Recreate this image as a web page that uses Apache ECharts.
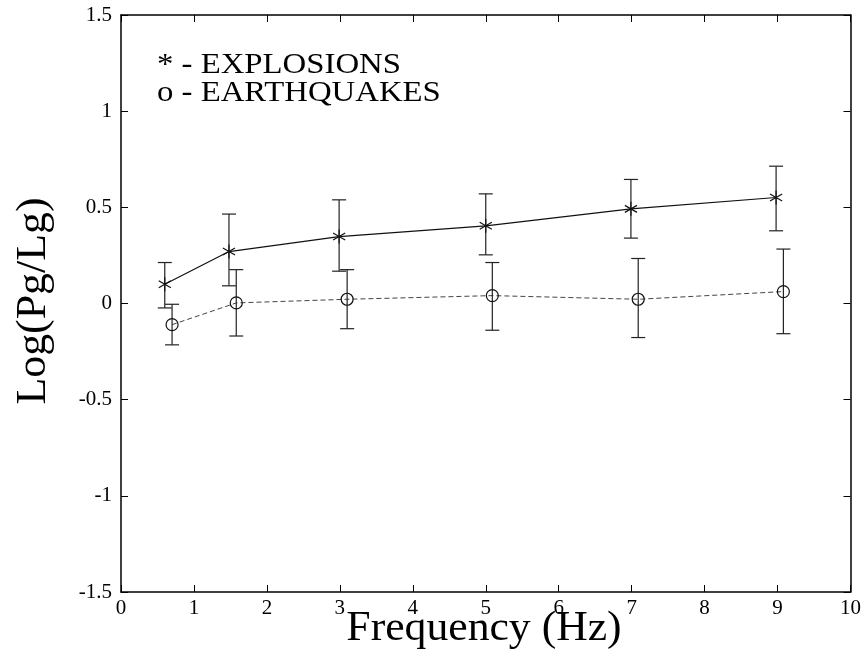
<!DOCTYPE html>
<html>
<head>
<meta charset="utf-8">
<script src="https://cdn.jsdelivr.net/npm/echarts@6/dist/echarts.min.js"></script>
<style>
html,body{margin:0;padding:0;background:#fff;}
#chart{width:864px;height:657px;}
</style>
</head>
<body>
<div id="chart"></div>
<script>
// Data
const explosionFreq = [0.60, 1.48, 2.99, 5.00, 6.99, 8.98];
const explosionMean = [0.100, 0.270, 0.348, 0.404, 0.492, 0.551];
const explosionLow  = [-0.023, 0.092, 0.168, 0.253, 0.340, 0.378];
const explosionHigh = [0.213, 0.465, 0.539, 0.570, 0.645, 0.714];

const quakeFreq = [0.70, 1.58, 3.10, 5.09, 7.09, 9.08];
const quakeMean = [-0.110, 0.003, 0.022, 0.041, 0.022, 0.062];
const quakeLow  = [-0.215, -0.169, -0.131, -0.139, -0.177, -0.157];
const quakeHigh = [-0.004, 0.176, 0.176, 0.213, 0.234, 0.283];

const xTicks = [0,1,2,3,4,5,6,7,8,9,10];
const yTicks = [-1.5,-1,-0.5,0,0.5,1,1.5];

const legendLines = ['* - EXPLOSIONS', 'o - EARTHQUAKES'];
const xTitle = 'Frequency (Hz)';
const yTitle = 'Log(Pg/Lg)';

const FONT = '"Liberation Serif","Times New Roman",serif';

function zip(xs, m, lo, hi){ return xs.map((x,i)=>[x, m[i], lo[i], hi[i]]); }

function errorRender(kind){
  return function(params, api){
    const x = api.value(0), y = api.value(1), lo = api.value(2), hi = api.value(3);
    const pc = api.coord([x, y]);
    const pl = api.coord([x, lo]);
    const ph = api.coord([x, hi]);
    const cap = 7;
    const st = {stroke:'#222', lineWidth:1.2, fill:null};
    const children = [
      {type:'line', shape:{x1:pl[0], y1:pl[1], x2:ph[0], y2:ph[1]}, style:st},
      {type:'line', shape:{x1:pl[0]-cap, y1:pl[1], x2:pl[0]+cap, y2:pl[1]}, style:st},
      {type:'line', shape:{x1:ph[0]-cap, y1:ph[1], x2:ph[0]+cap, y2:ph[1]}, style:st}
    ];
    if (kind === 'star') {
      const r = 7;
      for (let k=0;k<3;k++){
        const a = Math.PI/2 + k*Math.PI/3;
        const dx = r*Math.cos(a), dy = r*Math.sin(a);
        children.push({type:'line', shape:{x1:pc[0]-dx, y1:pc[1]-dy, x2:pc[0]+dx, y2:pc[1]+dy}, style:{stroke:'#111', lineWidth:1.2}});
      }
    } else {
      children.push({type:'circle', shape:{cx:pc[0], cy:pc[1], r:6}, style:{stroke:'#111', lineWidth:1.2, fill:'rgba(0,0,0,0)'}});
    }
    return {type:'group', children: children};
  };
}

const chart = echarts.init(document.getElementById('chart'));
const axisCommon = {
  min: -1.5, max: 1.5, interval: 0.5,
  splitLine:{show:false},
  axisLine:{show:true, onZero:false, lineStyle:{color:'#000', width:1.5}},
  axisTick:{show:true, inside:true, length:7, lineStyle:{color:'#000', width:1}}
};
chart.setOption({
  animation:false,
  backgroundColor:'#fff',
  grid:{left:121, right:13, top:15, bottom:65},
  xAxis:[
    {type:'value', min:0, max:10, interval:1, position:'bottom',
     splitLine:{show:false},
     axisLine:{show:true, onZero:false, lineStyle:{color:'#000', width:1.5}},
     axisTick:{show:true, inside:true, length:7, lineStyle:{color:'#000', width:1}},
     axisLabel:{show:true, margin:6, color:'#000', fontFamily:FONT, fontSize:21,
       formatter:(v)=> xTicks.indexOf(v) >= 0 ? String(v) : ''}},
    {type:'value', min:0, max:10, interval:1, position:'top',
     splitLine:{show:false},
     axisLine:{show:true, onZero:false, lineStyle:{color:'#000', width:1.5}},
     axisTick:{show:true, inside:true, length:7, lineStyle:{color:'#000', width:1}},
     axisLabel:{show:false}}
  ],
  yAxis:[
    Object.assign({type:'value', position:'left',
      axisLabel:{show:true, margin:9, color:'#000', fontFamily:FONT, fontSize:21,
        formatter:(v)=> yTicks.indexOf(v) >= 0 ? String(v) : ''}}, axisCommon),
    Object.assign({type:'value', position:'right', axisLabel:{show:false}}, axisCommon)
  ],
  graphic:[
    {type:'text', x:157, y:65, scaleX:1.13, style:{text:legendLines[0], font:'29px '+FONT, fill:'#000', textVerticalAlign:'middle'}},
    {type:'text', x:157, y:93, scaleX:1.13, style:{text:legendLines[1], font:'29px '+FONT, fill:'#000', textVerticalAlign:'middle'}},
    {type:'text', x:484, y:629, scaleX:1.04, style:{text:xTitle, font:'42px '+FONT, fill:'#000', textAlign:'center', textVerticalAlign:'middle'}},
    {type:'text', x:34, y:301, rotation:Math.PI/2, scaleX:1.045, style:{text:yTitle, font:'42px '+FONT, fill:'#000', textAlign:'center', textVerticalAlign:'middle'}}
  ],
  series:[
    {type:'line', name:'Explosions', data: explosionFreq.map((x,i)=>[x, explosionMean[i]]),
     symbol:'none', lineStyle:{color:'#111', width:1.2, type:'solid'}},
    {type:'line', name:'Earthquakes', data: quakeFreq.map((x,i)=>[x, quakeMean[i]]),
     symbol:'none', lineStyle:{color:'#444', width:1, type:[5,3]}},
    {type:'custom', name:'ExplosionErr', data: zip(explosionFreq, explosionMean, explosionLow, explosionHigh),
     renderItem: errorRender('star'), encode:{x:0, y:[1,2,3]}, z:5},
    {type:'custom', name:'QuakeErr', data: zip(quakeFreq, quakeMean, quakeLow, quakeHigh),
     renderItem: errorRender('circle'), encode:{x:0, y:[1,2,3]}, z:5}
  ]
});
</script>
</body>
</html>
